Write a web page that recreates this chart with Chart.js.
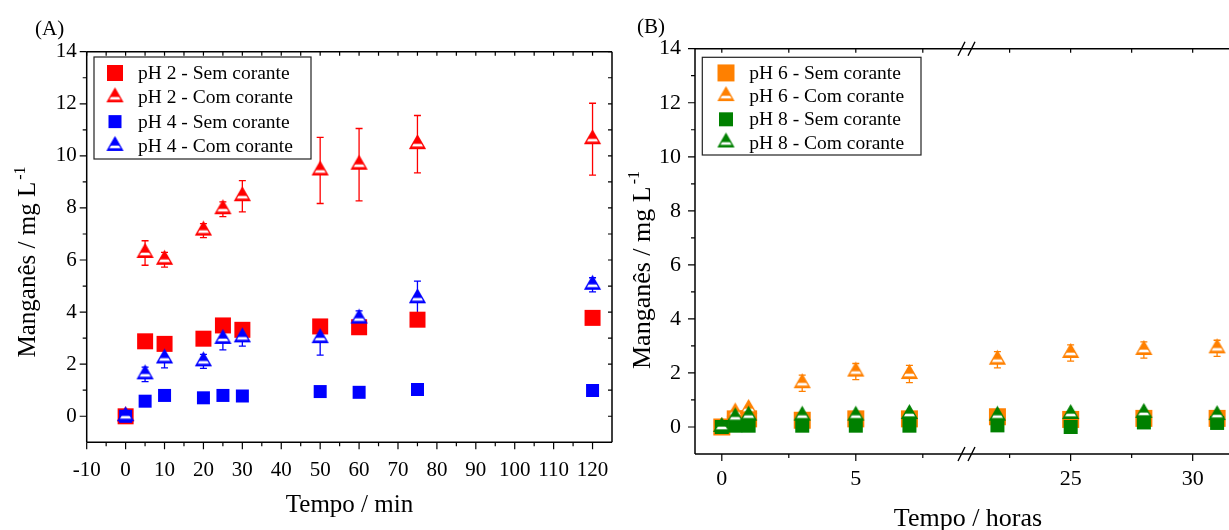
<!DOCTYPE html>
<html>
<head>
<meta charset="utf-8">
<script src="https://cdn.jsdelivr.net/npm/chart.js@4.4.1/dist/chart.umd.min.js"></script>
<style>
html, body { margin: 0; padding: 0; background: #fff; overflow: hidden; }
body { width: 1229px; height: 530px; position: relative; }
canvas { position: absolute; top: 0; }
#chartA { left: 0; }
#chartB1 { left: 620px; }
#chartB2 { left: 960px; }
</style>
</head>
<body>
<canvas id="chartA" width="640" height="530"></canvas>
<canvas id="chartB1" width="440" height="530"></canvas>
<canvas id="chartB2" width="320" height="530"></canvas>
<script>
const SERIF = '"Liberation Serif", "Times New Roman", Times, serif';

// ---- painel (A): tempo em minutos ----
const tempoMin = [0, 5, 10, 20, 25, 30, 50, 60, 75, 120];
const pH2Sem = [0, 2.88, 2.78, 2.98, 3.49, 3.32, 3.45, 3.42, 3.71, 3.78];
const pH2Com = [0, 6.27, 6.01, 7.13, 7.95, 8.45, 9.44, 9.66, 10.45, 10.64];
const pH2ComErr = [0, 0.47, 0.28, 0.27, 0.28, 0.6, 1.27, 1.39, 1.1, 1.38];
const pH4Sem = [0, 0.58, 0.8, 0.71, 0.8, 0.78, 0.95, 0.92, 1.03, 0.99];
const pH4Com = [0, 1.61, 2.22, 2.11, 2.97, 3.03, 3.0, 3.75, 4.53, 5.05];
const pH4ComErr = [0.08, 0.28, 0.36, 0.27, 0.42, 0.34, 0.65, 0.3, 0.66, 0.27];

// ---- painel (B): tempo em horas ----
const tempoHoras = [0, 0.5, 1, 3, 5, 7, 22, 25, 28, 31];
const pH6Sem = [0, 0.3, 0.3, 0.25, 0.3, 0.3, 0.38, 0.28, 0.32, 0.32];
const pH6Com = [0, 0.54, 0.67, 1.62, 2.05, 1.96, 2.49, 2.74, 2.85, 2.91];
const pH6ComErr = [0.05, 0.1, 0.1, 0.3, 0.3, 0.32, 0.3, 0.3, 0.3, 0.3];
const pH8Sem = [0, 0.05, 0.05, 0.05, 0.05, 0.05, 0.06, 0, 0.17, 0.15];
const pH8Com = [0, 0.36, 0.42, 0.42, 0.42, 0.48, 0.42, 0.48, 0.52, 0.44];
const pH8ComErr = [0.05, 0.1, 0.1, 0.1, 0.1, 0.1, 0.1, 0.1, 0.1, 0.1];

// rótulos dos eixos
const ticksXA = [-10, 0, 10, 20, 30, 40, 50, 60, 70, 80, 90, 100, 110, 120];
const minorXA = [-5, 5, 15, 25, 35, 45, 55, 65, 75, 85, 95, 105, 115];
const ticksY = [0, 2, 4, 6, 8, 10, 12, 14];
const minorY = [1, 3, 5, 7, 9, 11, 13];
const ticksXB1 = [0, 5];
const minorXB1 = [2.5, 7.5];
const ticksXB2 = [25, 30];
const minorXB2 = [22.5, 27.5, 32.5];

// marcadores desenhados em canvas pequenos
function squareMark(color, size) 
{
    const c = document.createElement('canvas');
    c.width = c.height = size + 2;
    const g = c.getContext('2d');
    g.fillStyle = color;
    g.fillRect(1, 1, size, size);
    return c;
}

function triangleMark(color, w, h) 
{
    // centro do ponto no baricentro do triângulo
    const c = document.createElement('canvas');
    c.width = w + 4;
    c.height = Math.ceil(h * 4 / 3) + 4;
    const g = c.getContext('2d');
    const cx = c.width / 2, cy = c.height / 2;
    const apex = cy - h * 2 / 3, base = cy + h / 3;
    g.beginPath();
    g.moveTo(cx, apex);
    g.lineTo(cx + w / 2, base);
    g.lineTo(cx - w / 2, base);
    g.closePath();
    g.fillStyle = '#fff';
    g.fill();
    g.save();
    g.clip();
    g.fillStyle = color;
    g.fillRect(0, 0, c.width, apex + h * 0.64);
    g.fillRect(0, base - 2, c.width, 3);
    g.restore();
    g.strokeStyle = color;
    g.lineWidth = 1.3;
    g.stroke();
    return c;
}

function makeSet(label, xs, ys, errs, color, mark, order) 
{
    return {
        label: label,
        data: xs.map((x, i) => ({ x: x, y: ys[i] })),
        errors: errs,
        errColor: color,
        pointStyle: mark,
        pointRadius: 8,
        order: order
    };
}

function axisX(min, max, majors, height, pad, size) 
{
    return {
        type: 'linear', min: min, max: max,
        grid: { display: false, drawTicks: false },
        border: { display: false },
        ticks: { padding: pad, color: '#000', font: { family: SERIF, size: size }, maxRotation: 0, autoSkip: false },
        afterBuildTicks: s => { s.ticks = majors.map(v => ({ value: v })); },
        afterFit: s => { s.height = height; }
    };
}

function axisY(width, pad, size, show) 
{
    return {
        type: 'linear', min: -1, max: 14, display: show,
        grid: { display: false, drawTicks: false },
        border: { display: false },
        ticks: { padding: pad, color: '#000', font: { family: SERIF, size: size } },
        afterBuildTicks: s => { s.ticks = ticksY.map(v => ({ value: v })); },
        afterFit: s => { s.width = width; }
    };
}

// moldura, marcas de escala, barras de erro, legenda e títulos
const framePlugin = {
    id: 'frame',
    beforeDatasetsDraw(chart) 
    {
        const ctx = chart.ctx;
        const xs = chart.scales.x, ys = chart.scales.y;
        ctx.save();
        ctx.lineWidth = 1.3;
        chart.data.datasets.forEach(ds => {
            if (!ds.errors) return;
            ctx.strokeStyle = ds.errColor;
            ds.data.forEach((p, j) => {
                const e = ds.errors[j];
                if (!e || p.x < xs.min || p.x > xs.max) return;
                const px = xs.getPixelForValue(p.x);
                const top = ys.getPixelForValue(p.y + e);
                const bot = ys.getPixelForValue(p.y - e);
                ctx.beginPath();
                ctx.moveTo(px, top); ctx.lineTo(px, bot);
                ctx.moveTo(px - 3.5, top); ctx.lineTo(px + 3.5, top);
                ctx.moveTo(px - 3.5, bot); ctx.lineTo(px + 3.5, bot);
                ctx.stroke();
            });
        });
        ctx.restore();
    },
    afterDraw(chart, args, o) 
    {
        const ctx = chart.ctx, a = chart.chartArea;
        const xs = chart.scales.x, ys = chart.scales.y;
        const ext = o.extendRight || 0;
        ctx.save();
        ctx.strokeStyle = '#000';
        ctx.lineWidth = 1.5;
        ctx.beginPath();
        ctx.moveTo(a.left, a.top); ctx.lineTo(a.right + ext, a.top);
        ctx.moveTo(a.left, a.bottom); ctx.lineTo(a.right + ext, a.bottom);
        if (o.left) { ctx.moveTo(a.left, a.top); ctx.lineTo(a.left, a.bottom); }
        if (o.right) { ctx.moveTo(a.right, a.top); ctx.lineTo(a.right, a.bottom); }
        ctx.stroke();

        ctx.lineWidth = 1.2;
        ctx.beginPath();
        const xTick = (v, len) => {
            const px = xs.getPixelForValue(v);
            ctx.moveTo(px, a.bottom); ctx.lineTo(px, a.bottom + len);
            ctx.moveTo(px, a.top); ctx.lineTo(px, a.top + 4);
        };
        o.xMajor.forEach(v => xTick(v, 7));
        o.xMinor.forEach(v => xTick(v, 4));
        const yTick = (v, len) => {
            const py = ys.getPixelForValue(v);
            if (o.left) { ctx.moveTo(a.left, py); ctx.lineTo(a.left - len, py); }
            if (o.right) { ctx.moveTo(a.right, py); ctx.lineTo(a.right - 4, py); }
        };
        ticksY.forEach(v => yTick(v, 7));
        minorY.forEach(v => yTick(v, 4));
        ctx.stroke();

        // quebra do eixo
        if (o.breakMarks) {
            ctx.lineWidth = 1.4;
            ctx.beginPath();
            [a.top, a.bottom].forEach(y => {
                [a.right - 1.5, a.right + 8.5].forEach(x => {
                    ctx.moveTo(x - 3.5, y + 7); ctx.lineTo(x + 3.5, y - 7);
                });
            });
            ctx.stroke();
        }

        // legenda
        if (o.legend) {
            const L = o.legend;
            const bx = a.left + L.dx, by = a.top + L.dy;
            ctx.lineWidth = 1.2;
            ctx.strokeStyle = '#222';
            ctx.strokeRect(bx, by, L.w, L.h);
            ctx.font = L.size + 'px ' + SERIF;
            ctx.fillStyle = '#000';
            ctx.textAlign = 'left';
            ctx.textBaseline = 'middle';
            chart.data.datasets.forEach((ds, i) => {
                const ry = by + L.first + i * L.step;
                const m = ds.pointStyle;
                ctx.drawImage(m, bx + L.markX - m.width / 2, ry - m.height / 2);
                ctx.fillText(ds.label, bx + L.textX, ry + 1);
            });
        }

        // textos
        ctx.fillStyle = '#000';
        (o.texts || []).forEach(t => {
            ctx.font = t.size + 'px ' + SERIF;
            ctx.textAlign = t.align || 'center';
            ctx.textBaseline = 'middle';
            ctx.fillText(t.text, t.x, t.y);
        });
        if (o.yTitle) {
            const T = o.yTitle;
            ctx.translate(T.x, T.y);
            ctx.rotate(-Math.PI / 2);
            ctx.font = T.size + 'px ' + SERIF;
            const w1 = ctx.measureText(T.main).width;
            ctx.font = Math.round(T.size * 0.62) + 'px ' + SERIF;
            const w2 = ctx.measureText(T.sup).width;
            const x0 = -(w1 + 2 + w2) / 2;
            ctx.textAlign = 'left';
            ctx.textBaseline = 'alphabetic';
            ctx.font = T.size + 'px ' + SERIF;
            ctx.fillText(T.main, x0, T.size * 0.33);
            ctx.font = Math.round(T.size * 0.62) + 'px ' + SERIF;
            ctx.fillText(T.sup, x0 + w1 + 2, T.size * 0.33 - T.size * 0.42);
        }
        ctx.restore();
    }
};

function baseOptions() 
{
    return {
        responsive: false,
        animation: false,
        devicePixelRatio: 1,
        events: []
    };
}

// marcadores
const redSq = squareMark('#ff0000', 16);
const redTri = triangleMark('#ff0000', 15, 13);
const blueSq = squareMark('#0000ff', 13);
const blueTri = triangleMark('#0000ff', 15, 13);
const orangeSq = squareMark('#ff8000', 17);
const orangeTri = triangleMark('#ff8000', 15, 13);
const greenSq = squareMark('#008000', 14);
const greenTri = triangleMark('#008000', 15, 13);

function datasetsB() 
{
    return [
        makeSet('pH 6 - Sem corante', tempoHoras, pH6Sem, null, '#ff8000', orangeSq, 3),
        makeSet('pH 6 - Com corante', tempoHoras, pH6Com, pH6ComErr, '#ff8000', orangeTri, 2),
        makeSet('pH 8 - Sem corante', tempoHoras, pH8Sem, null, '#008000', greenSq, 1),
        makeSet('pH 8 - Com corante', tempoHoras, pH8Com, pH8ComErr, '#008000', greenTri, 0)
    ];
}

// painel A
new Chart(document.getElementById('chartA'), {
    type: 'scatter',
    data: {
        datasets: [
            makeSet('pH 2 - Sem corante', tempoMin, pH2Sem, null, '#ff0000', redSq, 3),
            makeSet('pH 2 - Com corante', tempoMin, pH2Com, pH2ComErr, '#ff0000', redTri, 2),
            makeSet('pH 4 - Sem corante', tempoMin, pH4Sem, null, '#0000ff', blueSq, 1),
            makeSet('pH 4 - Com corante', tempoMin, pH4Com, pH4ComErr, '#0000ff', blueTri, 0)
        ]
    },
    options: Object.assign(baseOptions(), {
        layout: { padding: { left: 0, top: 51.7, right: 28, bottom: 0 } },
        scales: { x: axisX(-10, 125, ticksXA, 87.7, 16, 21), y: axisY(86.7, 10, 21, true) },
        plugins: {
            legend: { display: false },
            tooltip: { enabled: false },
            frame: {
                left: true, right: true,
                xMajor: ticksXA, xMinor: minorXA,
                legend: { dx: 7.3, dy: 5.3, w: 217, h: 102, first: 16, step: 24.3, markX: 21, textX: 44, size: 19.5 },
                texts: [
                    { text: '(A)', x: 35, y: 29, size: 21, align: 'left' },
                    { text: 'Tempo / min', x: 349.5, y: 505, size: 25 }
                ],
                yTitle: { main: 'Manganês / mg L', sup: '-1', x: 27, y: 262, size: 25 }
            }
        }
    }),
    plugins: [framePlugin]
});

// painel B, trecho 0 - 9 h
new Chart(document.getElementById('chartB1'), {
    type: 'scatter',
    data: { datasets: datasetsB() },
    options: Object.assign(baseOptions(), {
        layout: { padding: { left: 0, top: 48.7, right: 97, bottom: 0 } },
        scales: { x: axisX(-1, 9, ticksXB1, 76, 12, 22), y: axisY(75, 14, 22, true) },
        plugins: {
            legend: { display: false },
            tooltip: { enabled: false },
            frame: {
                left: true, right: false, extendRight: 10, breakMarks: true,
                xMajor: ticksXB1, xMinor: minorXB1,
                legend: { dx: 7.3, dy: 8.6, w: 218.7, h: 97.7, first: 15.6, step: 23.2, markX: 23.7, textX: 47, size: 19.5 },
                texts: [
                    { text: '(B)', x: 17, y: 27, size: 21, align: 'left' },
                    { text: 'Tempo / horas', x: 348, y: 519, size: 26 }
                ],
                yTitle: { main: 'Manganês / mg L', sup: '-1', x: 21, y: 270, size: 26 }
            }
        }
    }),
    plugins: [framePlugin]
});

// painel B, trecho 21 h em diante
new Chart(document.getElementById('chartB2'), {
    type: 'scatter',
    data: { datasets: datasetsB() },
    options: Object.assign(baseOptions(), {
        layout: { padding: { left: 13, top: 48.7, right: 26.3, bottom: 0 } },
        scales: { x: axisX(21, 32.5, ticksXB2, 76, 12, 22), y: axisY(0, 0, 22, false) },
        plugins: {
            legend: { display: false },
            tooltip: { enabled: false },
            frame: { left: false, right: true, xMajor: ticksXB2, xMinor: minorXB2 }
        }
    }),
    plugins: [framePlugin]
});
</script>
</body>
</html>
